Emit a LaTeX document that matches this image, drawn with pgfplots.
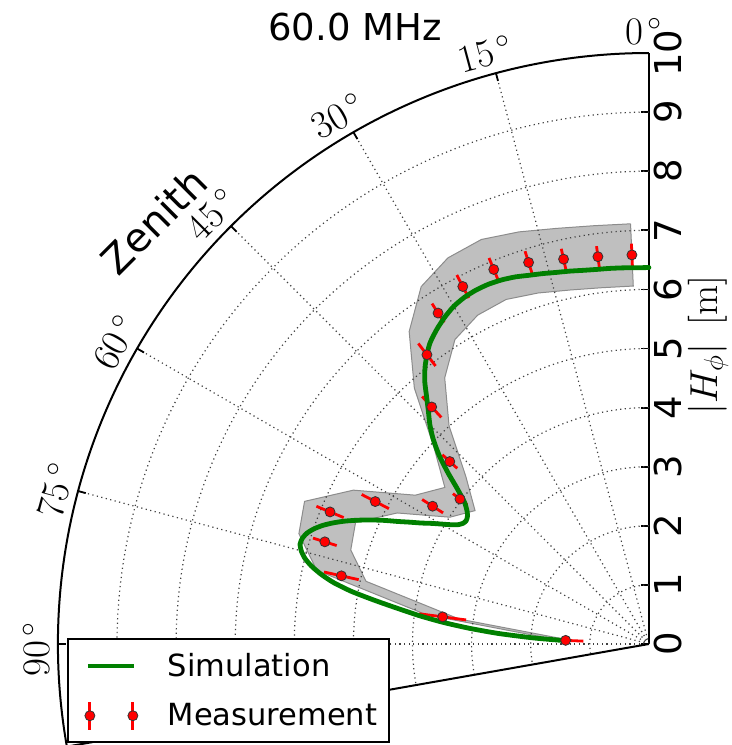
\documentclass[border=0pt]{standalone}
\usepackage{fix-cm}
\usepackage[no-math]{fontspec}
\setmainfont{DejaVu Sans}
\usepackage{pgfplots}
\usepackage{pgfplotstable}
\pgfplotsset{compat=1.18}

\definecolor{simgreen}{RGB}{0,128,0}
\definecolor{bandgray}{RGB}{191,191,191}

\newcommand{\bigfont}{\fontsize{18.5bp}{22bp}\selectfont}
\newcommand{\legfont}{\fontsize{15.25bp}{18bp}\selectfont}
\newcommand{\anglefont}{\fontsize{19.5bp}{23bp}\selectfont}

\tikzset{polgrid/.style={black!75, line width=0.6bp, dash pattern=on 0.6bp off 1.7bp}}

% simulated |H_phi| versus zenith angle (deg, m)
\pgfplotstableread{
th r
0 6.37
2 6.37
4 6.38
6 6.39
8 6.40
10 6.42
12 6.45
14 6.48
16 6.52
18 6.56
20 6.61
22 6.645
24 6.665
26 6.665
28 6.645
30 6.60
32 6.52
34 6.42
36 6.30
37.5 6.17
39 6.02
40.5 5.84
42 5.62
43.5 5.42
45 5.24
46.5 5.03
48 4.78
49.5 4.48
51 4.17
52.5 3.93
54 3.80
55 3.75
56 3.73
57 3.75
58 3.81
59 3.92
60 4.06
61 4.21
62 4.36
63 4.54
64 4.73
65 4.95
66 5.16
67 5.36
68 5.55
69 5.72
70 5.87
71 5.99
72 6.08
73 6.13
74 6.14
75 6.09
76 6.00
77 5.86
78 5.67
79 5.43
80 5.10
81 4.68
82 4.27
83 3.90
84 3.50
85 3.05
86 2.55
87 1.95
87.7 1.42
}\simtable

% measured |H_phi| with its error (deg, m, m)
\pgfplotstableread{
th r e
2.5 6.59 0.19
7.5 6.61 0.18
12.5 6.67 0.18
17.5 6.77 0.20
22.5 6.86 0.21
27.5 6.82 0.22
32.5 6.64 0.19
37.5 6.17 0.24
42.5 5.44 0.24
47.5 4.57 0.17
52.5 4.03 0.15
57.5 4.34 0.21
62.5 5.22 0.26
67.5 5.84 0.25
72.5 5.75 0.21
77.5 5.33 0.30
82.5 3.52 0.40
87.5 1.41 0.30
}\meastable

% systematic uncertainty band: upper edge out, lower edge back
\pgfplotstableread{
th r
2.5 7.117
7.5 7.139
12.5 7.204
17.5 7.312
22.5 7.409
27.5 7.366
32.5 7.171
37.5 6.664
42.5 5.875
47.5 4.936
52.5 4.352
57.5 4.687
62.5 5.638
67.5 6.307
72.5 6.210
77.5 5.756
82.5 3.802
87.5 1.523
87.5 1.297
82.5 3.238
77.5 4.904
72.5 5.290
67.5 5.373
62.5 4.802
57.5 3.993
52.5 3.708
47.5 4.204
42.5 5.005
37.5 5.676
32.5 6.109
27.5 6.274
22.5 6.311
17.5 6.228
12.5 6.136
7.5 6.081
2.5 6.063
2.5 7.117
}\bandtable

\begin{document}
\begin{tikzpicture}
\begin{axis}[
  x=29.55bp, y=29.55bp,
  xmin=-10.5, xmax=0, ymin=0, ymax=10,
  axis x line=none, axis y line=right,
  axis line style={-, black, line width=1bp},
  clip=false,
  ytick={0,1,...,10},
  tick align=inside,
  major tick length=4bp,
  tick style={black, line width=0.9bp},
  /pgf/number format/assume math mode=true,
  yticklabel style={rotate=90, anchor=north, inner sep=2.5bp, font=\bigfont},
  legend cell align=left,
  legend style={at={(axis cs:-9.848,0.1015)}, anchor=north west,
    draw=black, line width=1bp, fill=white,
    inner xsep=4bp, inner ysep=5bp, row sep=8bp, column sep=12bp,
    font=\legfont, cells={anchor=west}},
]
% uncertainty band
\addplot[fill=bandgray, draw=black!45, line width=0.5bp, forget plot]
  table[x expr={-\thisrow{r}*sin(\thisrow{th})}, y expr={\thisrow{r}*cos(\thisrow{th})}] {\bandtable};

% polar grid
\pgfplotsinvokeforeach{1,...,9}{
  \draw[polgrid] (axis cs:0,#1) arc[start angle=90, end angle=190, radius=#1*29.55bp];
}
\pgfplotsinvokeforeach{15,30,45,60,75,90}{
  \draw[polgrid] (axis cs:0,0) -- ++({90+#1}:295.5bp);
  \draw[black, line width=0.9bp] (axis cs:0,0) ++({90+#1}:295.5bp) -- ++({90+#1}:-4bp);
}
\draw[black, line width=1bp] (axis cs:0,10) arc[start angle=90, end angle=190, radius=295.5bp] -- (axis cs:0,0);

% zenith angle labels
\pgfplotsinvokeforeach{0,15,30,45,60,75,90}{
  \path (axis cs:0,0) ++({90.5+#1}:306.5bp) node[rotate=#1, font=\anglefont, inner sep=0pt] {$#1^{\,\circ}$};
}

% radial error bars
\addplot[red, line width=1.4bp, forget plot,
  quiver={u={-2*\thisrow{e}*sin(\thisrow{th})}, v={2*\thisrow{e}*cos(\thisrow{th})}}]
  table[x expr={-(\thisrow{r}-\thisrow{e})*sin(\thisrow{th})}, y expr={(\thisrow{r}-\thisrow{e})*cos(\thisrow{th})}] {\meastable};
% measured values
\addplot[only marks, mark=*, mark size=2.5bp, forget plot,
  mark options={fill=red, draw=black!80, line width=0.4bp}]
  table[x expr={-\thisrow{r}*sin(\thisrow{th})}, y expr={\thisrow{r}*cos(\thisrow{th})}] {\meastable};
% simulation
\addplot[simgreen, line width=2.4bp, smooth, tension=0.4, line cap=round, mark=none, forget plot]
  table[x expr={-\thisrow{r}*sin(\thisrow{th})}, y expr={\thisrow{r}*cos(\thisrow{th})}] {\simtable};

\addlegendimage{legend image code/.code={
  \path[draw=none, fill=none] (0bp,-7.5bp) rectangle (32bp,7.5bp);
  \draw[simgreen, line width=2.4bp] (6bp,0) -- (29bp,0);}}
\addlegendentry{Simulation}
\addlegendimage{legend image code/.code={
  \path[draw=none, fill=none] (0bp,-7.5bp) rectangle (32bp,7.5bp);
  \draw[red, line width=1.4bp] (7bp,-7bp) -- (7bp,7bp) (28.5bp,-7bp) -- (28.5bp,7bp);
  \filldraw[fill=red, draw=black!80, line width=0.4bp] (7bp,0) circle[radius=2.5bp] (28.5bp,0) circle[radius=2.5bp];}}
\addlegendentry{Measurement}

\node[font=\bigfont, anchor=base] at (axis cs:-4.975,10.22) {60.0 MHz};
\node[font=\fontsize{20bp}{24bp}\selectfont, rotate=45] at (axis cs:-8.38,7.16) {Zenith};
\node[rotate=90, font=\fontsize{19.5bp}{23bp}\selectfont] at (axis cs:1.0,5.06) {$|H_\phi|\ \,[\mathrm{m}]$};

\coordinate (bbll) at (axis cs:-10.98,-1.709);
\coordinate (bbur) at (axis cs:1.404,10.897);
\end{axis}
\pgfresetboundingbox
\useasboundingbox (bbll) rectangle (bbur);
\end{tikzpicture}
\end{document}
